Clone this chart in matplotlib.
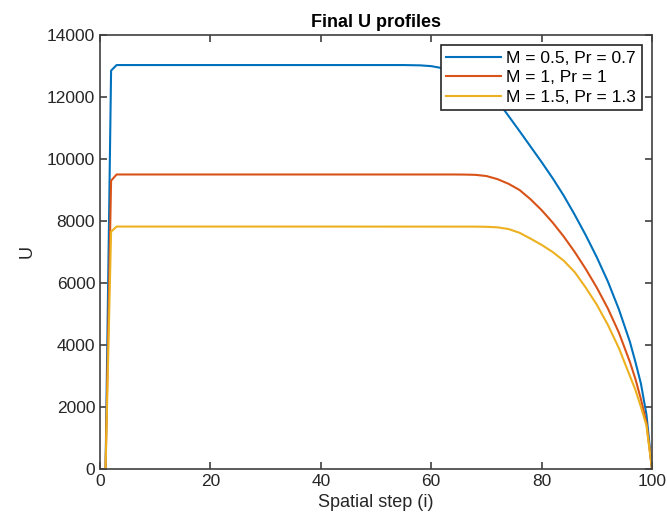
import matplotlib.pyplot as plt

plt.rcParams['font.family'] = ['Liberation Sans', 'DejaVu Sans']

# profile values (sparse points where the curve is flat)
x_blue = [1, 2, 3, 30, 55, 58, 60, 62, 64, 66, 68, 70, 72, 74, 76, 78, 80, 82,
          84, 86, 88, 90, 92, 94, 96, 97, 98, 99, 100]
u_blue = [0, 12850, 13030, 13030, 13030, 13020, 12995, 12930, 12810, 12650,
          12450, 12200, 11880, 11390, 10900, 10400, 9900, 9380, 8820, 8200,
          7540, 6830, 6050, 5150, 4100, 3450, 2750, 1750, 0]

x_red = [1, 2, 3, 30, 64, 66, 68, 70, 72, 74, 76, 78, 80, 82, 84, 86, 88, 90,
         92, 94, 96, 97, 98, 99, 100]
u_red = [0, 9300, 9500, 9500, 9500, 9497, 9488, 9450, 9350, 9200, 9000, 8700,
         8350, 7950, 7500, 7000, 6450, 5850, 5180, 4400, 3450, 2900, 2250,
         1480, 0]

x_yel = [1, 2, 3, 30, 68, 70, 72, 74, 76, 78, 80, 82, 84, 86, 88, 90, 92, 94,
         96, 97, 98, 99, 100]
u_yel = [0, 7655, 7820, 7820, 7818, 7812, 7795, 7740, 7620, 7430, 7230, 7000,
         6720, 6350, 5850, 5300, 4650, 3900, 3000, 2550, 2000, 1400, 0]

labels = ['M = 0.5, Pr = 0.7', 'M = 1, Pr = 1', 'M = 1.5, Pr = 1.3']
colors = ['#0072BD', '#D95319', '#EDB120']

fig = plt.figure(figsize=(6.67, 5.26), dpi=100)
ax = fig.add_axes([0.15, 0.1084, 0.8275, 0.8251])

ax.plot(x_blue, u_blue, color=colors[0], lw=1.5, label=labels[0])
ax.plot(x_red, u_red, color=colors[1], lw=1.5, label=labels[1])
ax.plot(x_yel, u_yel, color=colors[2], lw=1.5, label=labels[2])

ax.set_xlim(0, 100)
ax.set_ylim(0, 14000)
ax.set_xticks([0, 20, 40, 60, 80, 100])
ax.set_yticks(range(0, 14001, 2000))

axcol = '#404040'
for s in ax.spines.values():
    s.set_color(axcol)
    s.set_linewidth(1.2)
ax.tick_params(direction='in', top=True, right=True, length=5, width=1.2,
               colors=axcol, labelsize=12.5, labelcolor='#262626')

ax.set_title('Final U profiles', fontsize=13, fontweight='bold', pad=6)
ax.set_xlabel('Spatial step (i)', fontsize=13, color='#262626')
ax.set_ylabel('U', fontsize=13, color='#262626', labelpad=8)

leg = ax.legend(loc='upper right', fontsize=12.5, handlelength=3.2,
                labelspacing=0.25, borderpad=0.3, handletextpad=0.3,
                borderaxespad=0.6, fancybox=False, framealpha=1)
leg.get_frame().set_edgecolor('#262626')
leg.get_frame().set_linewidth(1.2)

fig.savefig('out.png', dpi=100)
